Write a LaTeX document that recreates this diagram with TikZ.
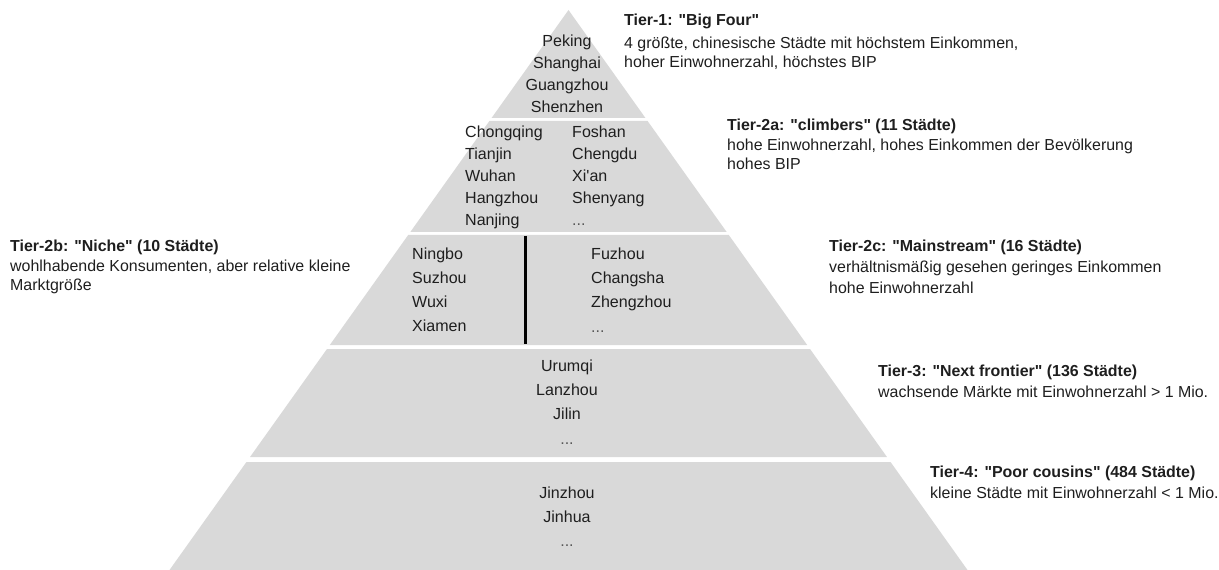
\documentclass[tikz,border=0pt]{standalone}
\usepackage{fontspec}
\newfontfamily\lsans{Liberation Sans}
\definecolor{bandgray}{HTML}{D9D9D9}
\definecolor{txt}{HTML}{1E1E1E}
\begin{document}
\begin{tikzpicture}[x=1bp,y=-1bp,
  band/.style={fill=bandgray,draw=none},
  city/.style={anchor=base,inner sep=0pt,font=\lsans\fontsize{16.1}{18}\selectfont,text=txt},
  cityw/.style={city,anchor=base west},
  dotsc/.style={city,text=txt!75},
  dotsw/.style={cityw,text=txt!75},
  desc/.style={anchor=base west,inner sep=0pt,font=\lsans\fontsize{16}{18}\selectfont,text=txt},
  ttl/.style={desc,font=\lsans\fontsize{16}{18}\selectfont\bfseries},
  divider/.style={line width=2.6bp,draw=black}
]
\useasboundingbox (0,0) rectangle (1219,570);
\def\cx{568.5}
\def\sl{0.7125}
% bands
\fill[band] (\cx,10) -- ({\cx+\sl*108},118) -- ({\cx-\sl*108},118) -- cycle;
\fill[band] ({\cx-\sl*111},121) -- ({\cx+\sl*111},121) -- ({\cx+\sl*222},232) -- ({\cx-\sl*222},232) -- cycle;
\fill[band] ({\cx-\sl*225},235) -- ({\cx+\sl*225},235) -- ({\cx+\sl*335},345) -- ({\cx-\sl*335},345) -- cycle;
\fill[band] ({\cx-\sl*339},349) -- ({\cx+\sl*339},349) -- ({\cx+\sl*447},457) -- ({\cx-\sl*447},457) -- cycle;
\fill[band] ({\cx-\sl*452},462) -- ({\cx+\sl*452},462) -- ({\cx+\sl*560},570) -- ({\cx-\sl*560},570) -- cycle;
% divider
\coordinate (divtop) at (525.5,236);
\coordinate (divbot) at (525.5,344);
\draw[divider] (divtop) -- (divbot);
% tier 1 cities
\node[city] (c1a) at (567,47) {Peking};
\node[city] (c1b) at (567,69) {Shanghai};
\node[city] (c1c) at (567,91) {Guangzhou};
\node[city] (c1d) at (567,113) {Shenzhen};
% tier 2a cities
\node[cityw] (c2a1) at (465,138) {Chongqing};
\node[cityw] (c2a2) at (465,160) {Tianjin};
\node[cityw] (c2a3) at (465,182) {Wuhan};
\node[cityw] (c2a4) at (465,204) {Hangzhou};
\node[cityw] (c2a5) at (465,226) {Nanjing};
\node[cityw] (c2a6) at (572,138) {Foshan};
\node[cityw] (c2a7) at (572,160) {Chengdu};
\node[cityw] (c2a8) at (572,182) {Xi'an};
\node[cityw] (c2a9) at (572,204) {Shenyang};
\node[dotsw] (c2a10) at (572,226) {...};
% tier 2b cities
\node[cityw] (c2b1) at (412,260) {Ningbo};
\node[cityw] (c2b2) at (412,284) {Suzhou};
\node[cityw] (c2b3) at (412,308) {Wuxi};
\node[cityw] (c2b4) at (412,332) {Xiamen};
% tier 2c cities
\node[cityw] (c2c1) at (591,260) {Fuzhou};
\node[cityw] (c2c2) at (591,284) {Changsha};
\node[cityw] (c2c3) at (591,308) {Zhengzhou};
\node[dotsw] (c2c4) at (591,333) {...};
% tier 3 cities
\node[city] (c3a) at (567,371) {Urumqi};
\node[city] (c3b) at (567,395) {Lanzhou};
\node[city] (c3c) at (567,419) {Jilin};
\node[dotsc] (c3d) at (567,444) {...};
% tier 4 cities
\node[city] (c4a) at (567,498) {Jinzhou};
\node[city] (c4b) at (567,522) {Jinhua};
\node[dotsc] (c4c) at (567,546) {...};
% descriptions
\node[ttl] (t1) at (624,26) {Tier-1: "Big Four"};
\node[desc] (t1a) at (624,49) {4 größte, chinesische Städte mit höchstem Einkommen,};
\node[desc] (t1b) at (624,68) {hoher Einwohnerzahl, höchstes BIP};
\node[ttl] (t2a) at (727,131) {Tier-2a: "climbers" (11 Städte)};
\node[desc] (t2aa) at (727,151) {hohe Einwohnerzahl, hohes Einkommen der Bevölkerung};
\node[desc] (t2ab) at (727,170) {hohes BIP};
\node[ttl] (t2b) at (10,252) {Tier-2b: "Niche" (10 Städte)};
\node[desc] (t2ba) at (10,272) {wohlhabende Konsumenten, aber relative kleine};
\node[desc] (t2bb) at (10,291) {Marktgröße};
\node[ttl] (t2c) at (829,252) {Tier-2c: "Mainstream" (16 Städte)};
\node[desc] (t2ca) at (829,273) {verhältnismäßig gesehen geringes Einkommen};
\node[desc] (t2cb) at (829,294) {hohe Einwohnerzahl};
\node[ttl] (t3) at (878,376) {Tier-3: "Next frontier" (136 Städte)};
\node[desc] (t3a) at (878,397) {wachsende Märkte mit Einwohnerzahl > 1 Mio.};
\node[ttl] (t4) at (930,477) {Tier-4: "Poor cousins" (484 Städte)};
\node[desc] (t4a) at (930,498) {kleine Städte mit Einwohnerzahl < 1 Mio.};
\end{tikzpicture}
\end{document}
